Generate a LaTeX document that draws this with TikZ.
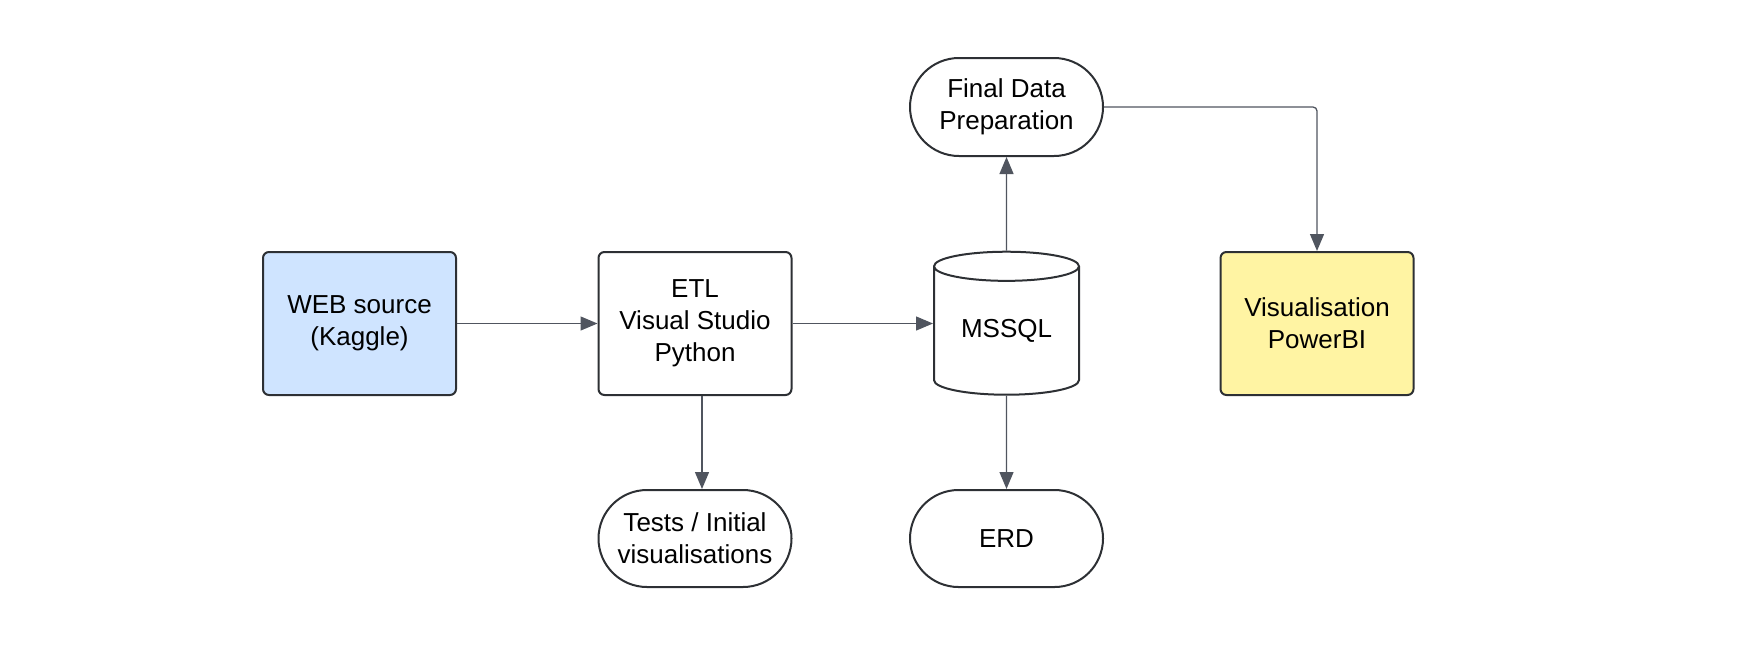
\documentclass[tikz,border=0pt]{standalone}
\usepackage{fontspec}
\setmainfont{Liberation Sans}
\usetikzlibrary{shapes.geometric,shapes.misc,arrows.meta}
\definecolor{kaggleblue}{RGB}{207,228,255}
\definecolor{powerbiyellow}{RGB}{255,244,163}
\definecolor{linegray}{RGB}{80,85,95}
\definecolor{bordergray}{RGB}{45,48,52}
\tikzset{flow/.style={draw=linegray,line width=0.65pt,-{Triangle[length=8.5pt,width=7pt]}}}

\begin{document}
\begin{tikzpicture}[x=0.5pt,y=-0.5pt]
\useasboundingbox (0,0) rectangle (1744,654);
\begin{scope}[every node/.style={draw=bordergray,line width=1pt,align=center,
              font=\fontsize{13}{16}\selectfont,inner sep=0pt,
              minimum width=96.5pt,minimum height=71.5pt}]
    \node (Web)[rounded corners=3pt,fill=kaggleblue] at (359.5,323.5) {WEB source\\(Kaggle)};
    \node (ETL)[rounded corners=3pt,fill=white] at (695,323.5) {ETL\\Visual Studio\\Python};
    \node (MSSQL)[cylinder,shape border rotate=90,aspect=0.32,
                  minimum width=72.5pt,minimum height=71.5pt] at (1006.5,331) {MSSQL};
    \node (Vis)[rounded corners=3pt,fill=powerbiyellow] at (1317,323.5) {Visualisation\\PowerBI};
    \node (Final)[rounded rectangle,minimum height=49pt] at (1006.5,107) {Final Data\\Preparation};
    \node (Tests)[rounded rectangle,minimum height=48.5pt] at (695,538.5) {Tests / Initial\\visualisations};
    \node (ERD)[rounded rectangle,minimum height=48.5pt] at (1006.5,538.5) {ERD};
\end{scope}

\begin{scope}[every edge/.style={flow}]
    \path (Web) edge (ETL);
    \path (ETL.east) edge (ETL.east -| MSSQL.west);
    \path ([xshift=3.5pt]ETL.south) edge ([xshift=3.5pt]Tests.north);
    \path (MSSQL) edge (ERD);
    \path (MSSQL) edge (Final);
\end{scope}
\draw[flow,rounded corners=2pt] (Final) -| (Vis);
\end{tikzpicture}
\end{document}
